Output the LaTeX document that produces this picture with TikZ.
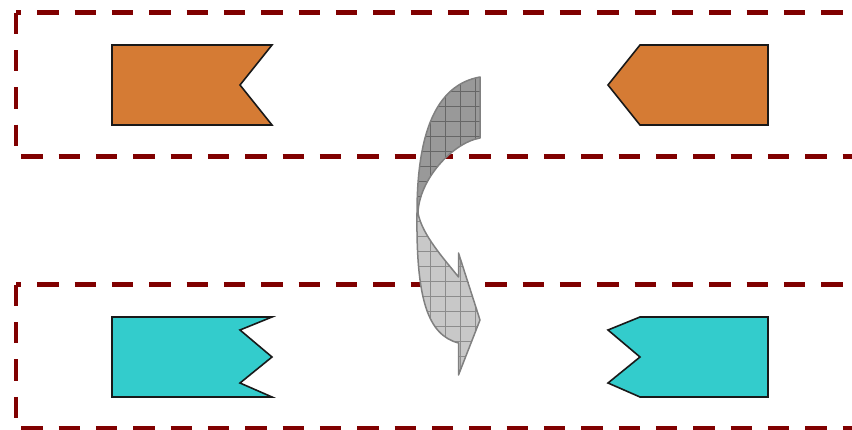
\documentclass[tikz,border=0pt]{standalone}
\definecolor{boxred}{RGB}{128,0,0}
\definecolor{orangefill}{RGB}{213,123,52}
\definecolor{cyanfill}{RGB}{51,204,204}
\definecolor{darkgray}{RGB}{153,153,153}
\definecolor{lightgray}{RGB}{200,200,200}
\begin{document}
\begin{tikzpicture}[x=1pt,y=-1pt,
  zone/.style={draw=boxred,line width=4.6pt,dash pattern=on 21.33pt off 16pt},
  shapeo/.style={fill=orangefill,draw=black!90,line width=1.6pt,line join=miter},
  shapec/.style={fill=cyanfill,draw=black!90,line width=1.6pt,line join=miter},
  gridln/.style={draw=black!45,line width=0.6pt},
  arrowedge/.style={draw=black!50,line width=1.5pt,line join=round}]
\useasboundingbox (0,0) rectangle (852,430);
\begin{scope}
\clip (0,0) rectangle (852,430);
% upper zone
\draw[zone,dash phase=16] (16,12.7) -- (870,12.7);
\draw[zone] (15.8,12.7) -- (15.8,156.7);
\draw[zone,dash phase=32] (16,156.7) -- (870,156.7);
% lower zone
\draw[zone,dash phase=16] (16,284.8) -- (870,284.8);
\draw[zone] (15.8,284.8) -- (15.8,428.3);
\draw[zone,dash phase=32] (16,428.3) -- (870,428.3);
\end{scope}
% orange shapes
\draw[shapeo] (112,45) -- (272,45) -- (240,85) -- (272,125) -- (112,125) -- cycle;
\draw[shapeo] (640,45) -- (768,45) -- (768,125) -- (640,125) -- (608,85) -- cycle;
% cyan shapes
\draw[shapec] (112,317) -- (272,317) -- (240,330) -- (272,357) -- (240,383) -- (272,397) -- (112,397) -- cycle;
\draw[shapec] (640,317) -- (768,317) -- (768,397) -- (640,397) -- (608,383) -- (640,357) -- (608,330) -- cycle;
% curved arrow
\def\lightpath{(418,213) .. controls (422,235) and (445,260) .. (458.5,277) -- (458.5,253) -- (480,320) -- (458.5,375) -- (458.5,343) .. controls (428,335) and (416,300) .. (417,213) -- cycle}
\def\darkpath{(480,77) .. controls (435,85) and (417,135) .. (417,213) -- (418,213) .. controls (419,180) and (452,143) .. (480,138) -- cycle}
\begin{scope}
\clip \lightpath;
\fill[lightgray] (400,200) rectangle (490,380);
\foreach \gx in {415,430,...,490} \draw[gridln] (\gx,200) -- (\gx,380);
\foreach \gy in {206.7,221.7,...,380} \draw[gridln] (400,\gy) -- (490,\gy);
\end{scope}
\draw[arrowedge] \lightpath;
\begin{scope}
\clip \darkpath;
\fill[darkgray] (400,70) rectangle (490,220);
\foreach \gx in {415,430,...,490} \draw[gridln,draw=black!60] (\gx,70) -- (\gx,220);
\foreach \gy in {76.7,91.7,...,220} \draw[gridln,draw=black!60] (400,\gy) -- (490,\gy);
\end{scope}
\draw[arrowedge] \darkpath;
\end{tikzpicture}
\end{document}
